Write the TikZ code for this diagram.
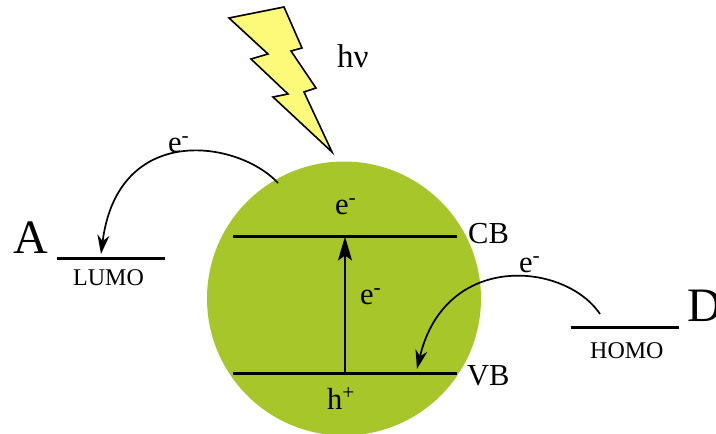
\documentclass[tikz,border=0pt]{standalone}
\usepackage{fontspec}
\setmainfont{Liberation Serif}
\usetikzlibrary{arrows.meta,positioning}
\definecolor{dotgreen}{RGB}{166,198,42}
\definecolor{boltyellow}{RGB}{253,250,122}
\tikzset{
  level/.style={line width=3pt},
  hop/.style={-{Stealth[length=19pt,width=12pt,inset=6pt]},line width=1.7pt},
  lbl/.style={font=\fontsize{30.5}{32}\selectfont,inner sep=0pt,anchor=base west},
  big/.style={font=\fontsize{48}{50}\selectfont,inner sep=0pt,anchor=base west},
  tiny/.style={font=\fontsize{24}{26}\selectfont,inner sep=0pt,anchor=base west}
}
\begin{document}
\begin{tikzpicture}[x=1pt,y=-1pt]
  \useasboundingbox (0,0) rectangle (716,434);
  \fill[dotgreen] (344,298.5) circle (137);
  % bolt
  \draw[fill=boltyellow,line width=1.6pt,line join=miter] (229,18) -- (284,7) -- (302,48) -- (291,51) -- (316,88) -- (304,92) -- (332,152) -- (273,97) -- (288,94) -- (251,59) -- (268,54) -- cycle;
  \node[lbl,font=\fontsize{33}{35}\selectfont] (hv) at (337,67) {hν};
  % levels
  \coordinate (cbl) at (233,236.5);
  \coordinate (cbr) at (457,236.5);
  \coordinate (vbl) at (233,373.5);
  \coordinate (vbr) at (457,373.5);
  \coordinate (cbm) at (345,236.5);
  \coordinate (vbm) at (345,373.5);
  \draw[level] (cbl) -- (cbr);
  \draw[level] (vbl) -- (vbr);
  \draw[-{Stealth[length=24pt,width=14pt,inset=5pt]},line width=1.4pt] (vbm) -- (cbm);
  \node[lbl] (cb) at (468,243) {CB};
  \node[lbl] (vb) at (467,385) {VB};
  \node[lbl] (ecb) at (335,214) {e\textsuperscript{-}};
  \node[lbl] (emid) at (360,304) {e\textsuperscript{-}};
  \node[lbl] (hole) at (327,409) {h\textsuperscript{+}};
  % acceptor
  \coordinate (lumol) at (57,258);
  \coordinate (lumor) at (165,258);
  \draw[level] (lumol) -- (lumor);
  \node[big] (acc) at (13,253) {A};
  \node[tiny] (lumo) at (73,285) {LUMO};
  % donor
  \coordinate (homol) at (571,327);
  \coordinate (homor) at (679,327);
  \draw[level] (homol) -- (homor);
  \node[big] (don) at (687,321) {D};
  \node[tiny] (homo) at (590,358) {HOMO};
  % electrons
  \coordinate (a1) at (278,183);
  \coordinate (a2) at (101,254);
  \coordinate (d1) at (600,314);
  \coordinate (d2) at (417,369);
  \draw[hop] (a1) .. controls (238,140) and (118,122) .. (a2);
  \draw[hop] (d1) .. controls (565,262) and (445,251) .. (d2);
  \node[lbl] (ea) at (168,152) {e\textsuperscript{-}};
  \node[lbl] (ed) at (519,272) {e\textsuperscript{-}};
\end{tikzpicture}
\end{document}
